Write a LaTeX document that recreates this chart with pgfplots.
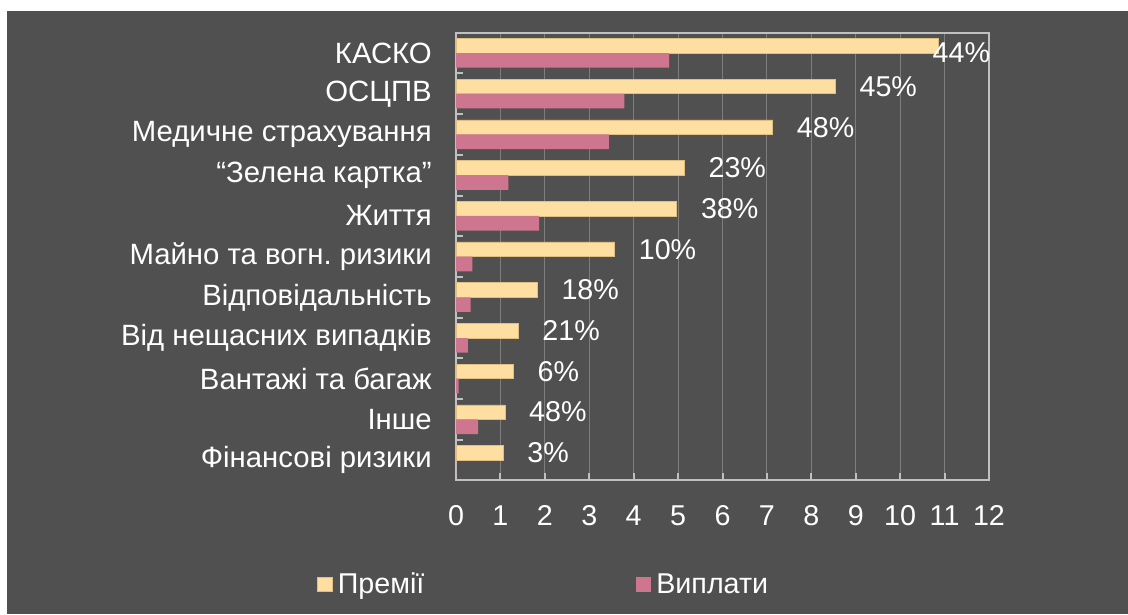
\documentclass[border=0pt]{standalone}
\usepackage{fontspec}
\setmainfont{Liberation Sans}
\usepackage{pgfplots}
\usepackage{pgfplotstable}
\pgfplotsset{compat=1.18}

\definecolor{bg}{RGB}{80,80,80}
\definecolor{prem}{RGB}{255,222,162}
\definecolor{premedge}{RGB}{225,190,130}
\definecolor{pay}{RGB}{206,118,143}
\definecolor{axcol}{RGB}{192,192,192}
\definecolor{gridcol}{RGB}{125,125,125}

% y: category position (top = 10), prem/pay: values, lab: share in %, dx/dy: label offsets (pt)
\pgfplotstableread{
y prem pay lab dx dy
10 10.86 4.80 44 -4.5 -5.25
9 8.54 3.79 45 18 0
8 7.13 3.44 48 18 0
7 5.14 1.18 23 18 0
6 4.97 1.87 38 18 0
5 3.57 0.37 10 18 0
4 1.83 0.33 18 18 0
3 1.40 0.27 21 18 0
2 1.29 0.06 6 18 0
1 1.10 0.50 48 18 0
0 1.06 0.00 3 18 0
}\data

\begin{document}
\frenchspacing
\fontsize{21.5pt}{26pt}\selectfont
\begin{tikzpicture}
\fill[white] (0pt,0pt) rectangle (846pt,460.5pt);
\fill[bg] (5.25pt,0pt) rectangle (846pt,452.25pt);
\begin{axis}[
    at={(342pt,100.125pt)}, anchor=south west,
    scale only axis,
    width=399.75pt, height=335.85pt,
    xbar, bar width=0.36,
    xmin=0, xmax=12, ymin=-0.5, ymax=10.5,
    xtick={0,...,12},
    ytick={0,...,10},
    yticklabels={Фінансові ризики, Інше, Вантажі та багаж, Від нещасних випадків,
      Відповідальність, Майно та вогн. ризики, Життя, “Зелена картка”,
      Медичне страхування, ОСЦПВ, КАСКО},
    y tick style={draw=none},
    extra y ticks={0.5,1.5,...,9.5},
    extra y tick labels={},
    extra y tick style={y tick style={draw=axcol, line width=1.5pt}},
    xtick pos=bottom, ytick pos=left,
    tick align=inside,
    major tick length=5.25pt,
    x tick style={axcol, line width=1.5pt},
    xmajorgrids,
    major grid style={gridcol, line width=0.75pt},
    axis line style={axcol, line width=1.5pt},
    /pgf/number format/assume math mode=true,
    xticklabel style={text=white, inner sep=0pt, anchor=north, yshift=-18.4pt},
    yticklabel style={text=white, inner sep=0pt, anchor=east, xshift=-18pt,
      font=\fontsize{22pt}{26pt}\selectfont},
    clip=false,
    legend columns=2,
    legend style={at={(-0.2608,-0.235)}, anchor=west, draw=none, fill=none,
      inner sep=0pt, text=white, nodes={inner xsep=4pt, inner ysep=1pt},
      /tikz/every even column/.append style={column sep=155pt}},
    legend image code/.code={\fill[#1] (0pt,-4.5pt) rectangle (11pt,6.5pt);},
  ]
  \addplot+[bar shift=0.18, fill=prem, draw=premedge, line width=0.4pt,
    point meta=explicit symbolic,
    visualization depends on={\thisrow{dx} \as \dx},
    visualization depends on={\thisrow{dy} \as \dy},
    nodes near coords={\pgfplotspointmeta\%},
    nodes near coords style={text=white, inner sep=0pt, anchor=west,
      xshift=\dx pt, yshift=\dy pt}]
    table[x=prem, y=y, meta=lab] {\data};
  \addlegendentry{Премії}
  \addplot+[bar shift=-0.18, fill=pay, draw=none]
    table[x=pay, y=y] {\data};
  \addlegendentry{Виплати}
\end{axis}
\pgfresetboundingbox
\path[use as bounding box] (0pt,0pt) rectangle (846pt,460.5pt);
\end{tikzpicture}
\end{document}
